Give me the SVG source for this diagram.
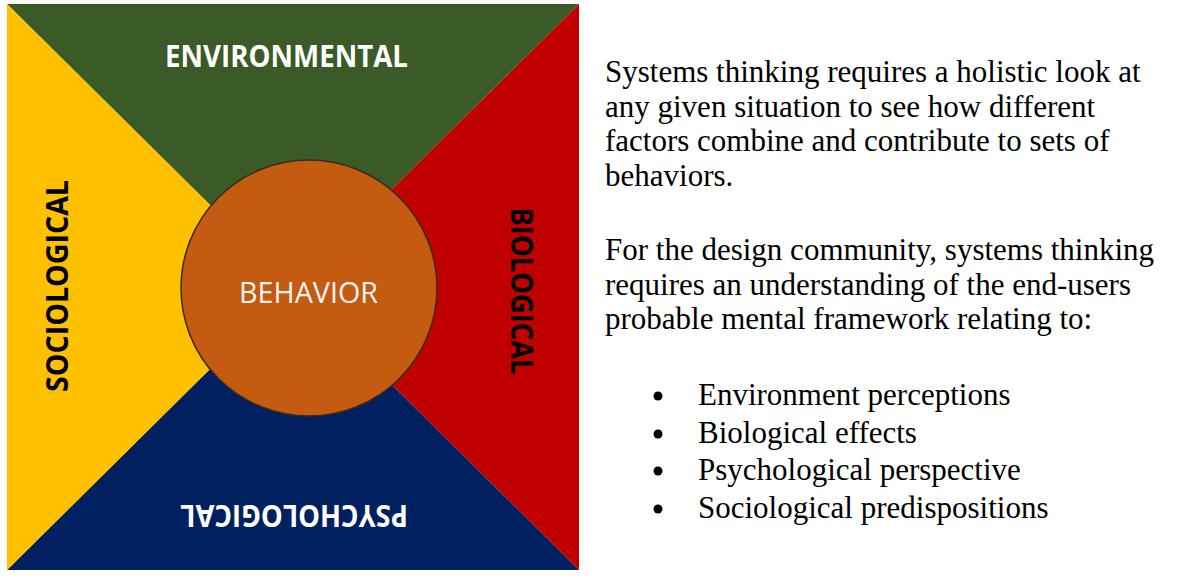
<svg xmlns="http://www.w3.org/2000/svg" width="1200" height="580" viewBox="0 0 1200 580">
<style>
.lbl{font-family:"Open Sans","Liberation Sans",sans-serif;font-weight:700;font-size:30px;text-anchor:middle}
.body{font-family:"Liberation Serif","Times New Roman",serif;font-size:31px;fill:#000}
</style>
<rect width="1200" height="580" fill="#ffffff"/>
<g id="environmental">
<polygon points="7,4 579,4 293,287" fill="#3A5A27"/>
<text class="lbl" x="286.5" y="67" fill="#ffffff" textLength="243" lengthAdjust="spacingAndGlyphs">ENVIRONMENTAL</text>
</g>
<g id="biological">
<polygon points="579,4 579,570 293,287" fill="#C00000"/>
<text class="lbl" transform="translate(511,291) rotate(90)" x="0" y="0" fill="#000000" textLength="167" lengthAdjust="spacingAndGlyphs">BIOLOGICAL</text>
</g>
<g id="psychological">
<polygon points="579,570 7,570 293,287" fill="#002060"/>
<text class="lbl" transform="translate(294,505) rotate(180)" x="0" y="0" fill="#ffffff" textLength="228" lengthAdjust="spacingAndGlyphs">PSYCHOLOGICAL</text>
</g>
<g id="sociological">
<polygon points="7,570 7,4 293,287" fill="#FFC000"/>
<text class="lbl" transform="translate(68,286) rotate(-90)" x="0" y="0" fill="#000000" textLength="212" lengthAdjust="spacingAndGlyphs">SOCIOLOGICAL</text>
</g>
<g id="behavior">
<circle cx="309" cy="288" r="128" fill="#C55A11" stroke="#3a2a1c" stroke-width="1.5"/>
<text x="308.5" y="303" font-family="'Open Sans','Liberation Sans',sans-serif" font-size="29" fill="#f4f4f4" text-anchor="middle" textLength="139" lengthAdjust="spacingAndGlyphs">BEHAVIOR</text>
</g>
<g id="description">
<text class="body" x="605" y="82">Systems thinking requires a holistic look at</text>
<text class="body" x="605" y="116.5">any given situation to see how different</text>
<text class="body" x="605" y="151">factors combine and contribute to sets of</text>
<text class="body" x="605" y="185.5">behaviors.</text>
<text class="body" x="605" y="260">For the design community, systems thinking</text>
<text class="body" x="605" y="294.5">requires an understanding of the end-users</text>
<text class="body" x="605" y="329">probable mental framework relating to:</text>
</g>
<g id="bullets">
<circle cx="658" cy="396" r="4.5" fill="#000"/>
<text class="body" x="698" y="405">Environment perceptions</text>
<circle cx="658" cy="434" r="4.5" fill="#000"/>
<text class="body" x="698" y="443">Biological effects</text>
<circle cx="658" cy="471" r="4.5" fill="#000"/>
<text class="body" x="698" y="480">Psychological perspective</text>
<circle cx="658" cy="509" r="4.5" fill="#000"/>
<text class="body" x="698" y="518">Sociological predispositions</text>
</g>
</svg>
